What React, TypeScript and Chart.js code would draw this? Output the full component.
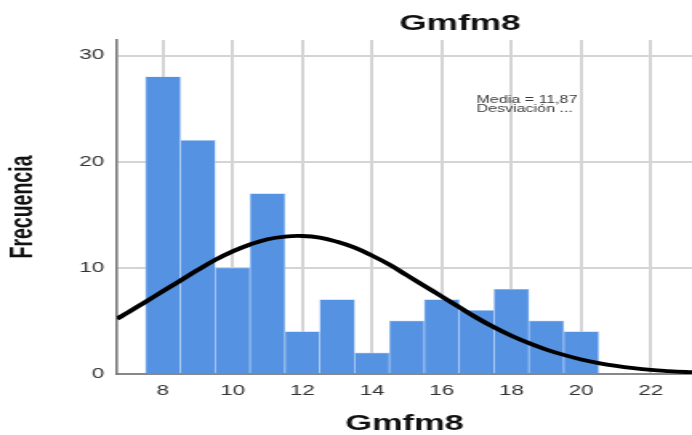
import React, { useEffect, useRef } from 'react';
import { Chart, registerables } from 'chart.js';

Chart.register(...registerables);

// ---- data ----
const binCenters = [8, 9, 10, 11, 12, 13, 14, 15, 16, 17, 18, 19, 20];
const frequencies = [28, 22, 10, 17, 4, 7, 2, 5, 7, 6, 8, 5, 4];

const curveX = [6.68, 7, 7.5, 8, 8.5, 9, 9.5, 10, 10.5, 11, 11.5, 12, 12.5, 13, 13.5, 14, 14.5, 15, 15.5, 16, 16.5, 17, 17.5, 18, 18.5, 19, 19.5, 20, 20.5, 21, 21.5, 22, 22.5, 23, 23.18];
const curveY = [5.2, 5.8, 6.8, 7.8, 8.8, 9.8, 10.75, 11.55, 12.2, 12.7, 12.95, 13.0, 12.85, 12.45, 11.9, 11.15, 10.3, 9.3, 8.3, 7.3, 6.3, 5.3, 4.4, 3.6, 2.9, 2.3, 1.8, 1.37, 1.03, 0.76, 0.55, 0.39, 0.28, 0.19, 0.17];

const xTickValues = [8, 10, 12, 14, 16, 18, 20, 22];
const yTickValues = [0, 10, 20, 30];

const chartTitle = 'Gmfm8';
const xAxisTitle = 'Gmfm8';
const yAxisTitle = 'Frecuencia';
const statsLines = ['Media = 11,87', 'Desviación ...'];

// ---- layout ----
const W = 692;
const H = 435;
const SX = 1.6019; // horizontal stretch of the reference picture
const CW = Math.round(W / SX);
const FONT = '"Liberation Sans", Arial, Helvetica, sans-serif';

const annotationPlugin = {
  id: 'annotations',
  afterDraw(chart: any) {
    const ctx = chart.ctx;
    const xs = chart.scales.x;
    const ys = chart.scales.y;
    ctx.save();
    ctx.fillStyle = '#111';
    ctx.font = `bold 22px ${FONT}`;
    ctx.textAlign = 'center';
    ctx.textBaseline = 'middle';
    ctx.fillText(chartTitle, 460 / SX, 24);

    ctx.fillStyle = '#3a3a3a';
    ctx.font = `10px ${FONT}`;
    ctx.textAlign = 'left';
    ctx.textBaseline = 'alphabetic';
    const sx = xs.getPixelForValue(17.0);
    const sy = ys.getPixelForValue(25.5);
    statsLines.forEach((t, i) => ctx.fillText(t, sx, sy + i * 8.5));
    ctx.restore();
  },
};

export default function App() {
  const ref = useRef<HTMLCanvasElement | null>(null);

  useEffect(() => {
    const canvas = ref.current;
    if (!canvas) return;
    Chart.defaults.font.family = FONT;
    const chart = new Chart(canvas, {
      type: 'bar',
      data: {
        datasets: [
          {
            type: 'line',
            data: curveX.map((x, i) => ({ x, y: curveY[i] })),
            borderColor: '#000',
            borderWidth: 3.8,
            pointRadius: 0,
            tension: 0.4,
            fill: false,
            order: 0,
          } as any,
          {
            type: 'bar',
            data: binCenters.map((x, i) => ({ x, y: frequencies[i] })),
            backgroundColor: '#5593e2',
            borderColor: '#b9d3f5',
            borderWidth: 0.7,
            barPercentage: 1,
            categoryPercentage: 1,
            order: 1,
          } as any,
        ],
      },
      options: {
        responsive: false,
        animation: false,
        devicePixelRatio: 1,
        layout: { padding: { top: 40, left: 0, right: 0, bottom: 0 } },
        plugins: {
          legend: { display: false },
          tooltip: { enabled: false },
          title: { display: false },
        },
        scales: {
          x: {
            type: 'linear',
            min: 6.68,
            max: 23.18,
            offset: false,
            afterBuildTicks: (s: any) => {
              s.ticks = xTickValues.map((v) => ({ value: v }));
            },
            afterFit: (s: any) => {
              s.height = 61;
            },
            ticks: {
              padding: 8.5,
              font: { size: 14 },
              color: '#333',
              maxRotation: 0,
              autoSkip: false,
            },
            grid: { color: '#d4d4d4', lineWidth: 2, drawTicks: false, offset: false },
            border: { color: '#888', width: 2 },
            title: {
              display: true,
              text: xAxisTitle,
              color: '#111',
              font: { size: 21.5, weight: 'bold', lineHeight: 1 },
              padding: { top: 0, bottom: 0.5 },
            },
          },
          y: {
            type: 'linear',
            min: 0,
            max: 31.46,
            afterBuildTicks: (s: any) => {
              s.ticks = yTickValues.map((v) => ({ value: v }));
            },
            afterFit: (s: any) => {
              s.width = 73;
            },
            ticks: {
              padding: 8,
              font: { size: 14 },
              color: '#333',
            },
            grid: { color: '#d4d4d4', lineWidth: 2, drawTicks: false },
            border: { color: '#777', width: 1.6 },
            title: {
              display: true,
              text: yAxisTitle,
              color: '#111',
              font: { size: 19.5, weight: 'bold', lineHeight: 1.2 },
              padding: { top: 3.3, bottom: 0 },
            },
          },
        },
      } as any,
      plugins: [annotationPlugin],
    });
    return () => chart.destroy();
  }, []);

  return (
    <div style={{ position: 'fixed', left: 0, top: 0, width: W, height: H, background: '#fff' }}>
      <canvas
        ref={ref}
        width={CW}
        height={H}
        style={{ width: `${W}px`, height: `${H}px`, display: 'block' }}
      />
    </div>
  );
}
